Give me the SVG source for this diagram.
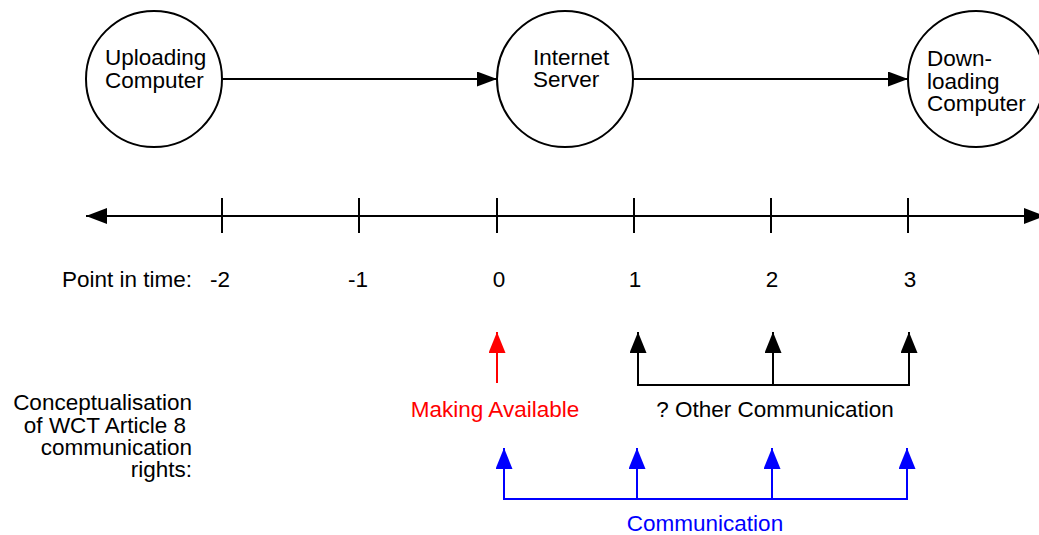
<svg xmlns="http://www.w3.org/2000/svg" width="1039" height="535" viewBox="0 0 1039 535">
<style>
text{font-family:"Liberation Sans",Arial,sans-serif;font-size:22.5px;fill:#000}
.node{fill:#fff;stroke:#000;stroke-width:2}
.ln{fill:none;stroke:#000;stroke-width:2}
.red{stroke:#f00}
.blue{stroke:#00f}
.mid{text-anchor:middle}
.end{text-anchor:end}
</style>
<defs>
<marker id="ah" markerUnits="userSpaceOnUse" markerWidth="20" markerHeight="15" refX="20" refY="7.5" orient="auto-start-reverse"><path d="M0,0 L20,7.5 L0,15 Z" fill="#000"/></marker>
<marker id="ahT" markerUnits="userSpaceOnUse" markerWidth="21" markerHeight="16" refX="21" refY="8" orient="auto-start-reverse"><path d="M0,0 L21,8 L0,16 Z" fill="#000"/></marker>
<marker id="upK" markerUnits="userSpaceOnUse" markerWidth="21" markerHeight="17" refX="21" refY="8.5" orient="auto"><path d="M0,0 L21,8.5 L0,17 Z" fill="#000"/></marker>
<marker id="upR" markerUnits="userSpaceOnUse" markerWidth="21" markerHeight="17" refX="21" refY="8.5" orient="auto"><path d="M0,0 L21,8.5 L0,17 Z" fill="#f00"/></marker>
<marker id="upB" markerUnits="userSpaceOnUse" markerWidth="21" markerHeight="17" refX="21" refY="8.5" orient="auto"><path d="M0,0 L21,8.5 L0,17 Z" fill="#00f"/></marker>
</defs>
<rect width="1039" height="535" fill="#fff"/>

<g id="connectors">
<line class="ln" x1="222" y1="79" x2="497" y2="79" marker-end="url(#ah)"/>
<line class="ln" x1="633" y1="79" x2="908" y2="79" marker-end="url(#ah)"/>
</g>

<g id="node-uploading">
<circle class="node" cx="154" cy="79" r="68"/>
<text x="105" y="65">Uploading</text>
<text x="105" y="88">Computer</text>
</g>
<g id="node-server">
<circle class="node" cx="565" cy="79" r="68"/>
<text x="533" y="65">Internet</text>
<text x="533" y="87">Server</text>
</g>
<g id="node-downloading">
<circle class="node" cx="976" cy="79" r="68"/>
<text x="927" y="66">Down-</text>
<text x="927" y="88.5">loading</text>
<text x="927" y="111">Computer</text>
</g>

<g id="timeline">
<line class="ln" x1="86" y1="216" x2="1045" y2="216" marker-start="url(#ahT)" marker-end="url(#ahT)"/>
<g class="ln">
<line x1="222" y1="198" x2="222" y2="233"/>
<line x1="359" y1="198" x2="359" y2="233"/>
<line x1="497" y1="198" x2="497" y2="233"/>
<line x1="634" y1="198" x2="634" y2="233"/>
<line x1="771" y1="198" x2="771" y2="233"/>
<line x1="908" y1="198" x2="908" y2="233"/>
</g>
<text x="62" y="287">Point in time:</text>
<text class="mid" x="220" y="287">-2</text>
<text class="mid" x="358" y="287">-1</text>
<text class="mid" x="499" y="287">0</text>
<text class="mid" x="635" y="287">1</text>
<text class="mid" x="772" y="287">2</text>
<text class="mid" x="910" y="287">3</text>
</g>

<g id="making-available">
<line class="ln red" x1="497" y1="383" x2="497" y2="332" marker-end="url(#upR)"/>
<text class="mid" x="495" y="417" style="fill:#f00">Making Available</text>
</g>

<g id="other-communication">
<line class="ln" x1="638" y1="386" x2="638" y2="332" marker-end="url(#upK)"/>
<line class="ln" x1="773" y1="386" x2="773" y2="332" marker-end="url(#upK)"/>
<line class="ln" x1="909" y1="386" x2="909" y2="332" marker-end="url(#upK)"/>
<line class="ln" x1="637" y1="385" x2="910" y2="385"/>
<text class="mid" x="775" y="417">? Other Communication</text>
</g>

<g id="communication">
<line class="ln blue" x1="504" y1="500" x2="504" y2="448" marker-end="url(#upB)"/>
<line class="ln blue" x1="637" y1="500" x2="637" y2="448" marker-end="url(#upB)"/>
<line class="ln blue" x1="772" y1="500" x2="772" y2="448" marker-end="url(#upB)"/>
<line class="ln blue" x1="907" y1="500" x2="907" y2="448" marker-end="url(#upB)"/>
<line class="ln blue" x1="503" y1="499" x2="908" y2="499"/>
<text class="mid" x="705" y="531" style="fill:#00f">Communication</text>
</g>

<g id="label-conceptualisation">
<text class="end" x="192" y="410">Conceptualisation</text>
<text class="end" x="186" y="433">of WCT Article 8</text>
<text class="end" x="192" y="455">communication</text>
<text class="end" x="192" y="477">rights:</text>
</g>
</svg>
